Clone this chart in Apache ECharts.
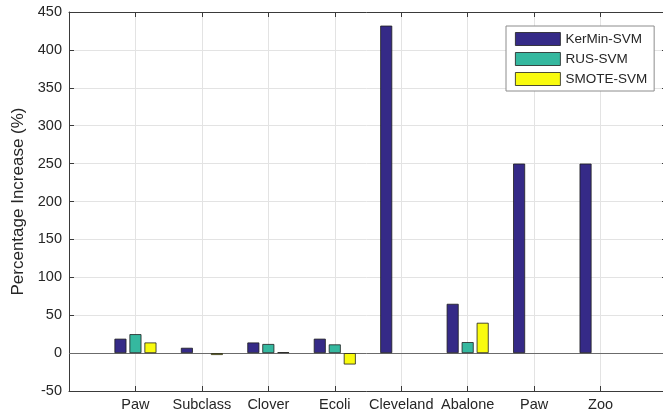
<!DOCTYPE html>
<html>
<head>
<meta charset="utf-8">
<script src="https://cdn.jsdelivr.net/npm/echarts@6/dist/echarts.min.js"></script>
<style>
  html, body { margin: 0; padding: 0; background: #fff; overflow: hidden; }
  #chart { width: 663px; height: 414px; }
</style>
</head>
<body>
<div id="chart"></div>
<script>
// Datasets along the x axis
const categories = ['Paw', 'Subclass', 'Clover', 'Ecoli', 'Cleveland', 'Abalone', 'Paw', 'Zoo'];
// Percentage increase per method
const kerMinSvm = [19, 7, 14, 19, 432, 65, 250, 250];
const rusSvm = [25, 0, 12, 11.5, 0, 14.5, 0, 0];
const smoteSvm = [14, -2.5, 1.3, -15, 0, 40, 0, 0];
const seriesNames = ['KerMin-SVM', 'RUS-SVM', 'SMOTE-SVM'];
// Y axis range and step
const yMin = -50, yMax = 450, yStep = 50;

const FONT = '"Liberation Sans", Arial, Helvetica, sans-serif';
const TEXT = '#262626';
const AXIS = '#3a3a3a';
const GRID = '#e3e3e3';
const colors = ['#352a87', '#35b89f', '#f9fb0e'];

// Zero-height bars sit on the baseline without an outline
const toPoints = vals => vals.map((v, i) => (
  v === 0 ? { value: [i + 1, v], itemStyle: { borderWidth: 0 } } : [i + 1, v]
));

const chart = echarts.init(document.getElementById('chart'), null, { renderer: 'canvas' });

const makeBar = (name, vals, color, withBaseline) => {
  const s = {
    name: name,
    type: 'bar',
    data: toPoints(vals),
    barWidth: 12,
    barGap: '25%',
    itemStyle: { color: color, borderColor: '#1e1e1e', borderWidth: 0.8 },
    emphasis: { disabled: true },
    animation: false,
    z: 3
  };
  if (withBaseline) {
    s.markLine = {
      silent: true,
      symbol: ['none', 'none'],
      label: { show: false },
      lineStyle: { color: '#6b6b6b', width: 1, type: 'solid' },
      data: [{ yAxis: 0 }],
      z: 2
    };
  }
  return s;
};

const option = {
  backgroundColor: '#ffffff',
  animation: false,
  textStyle: { fontFamily: FONT },
  // the plot box runs slightly past the right edge of the canvas
  grid: { left: 69, width: 598, top: 12, bottom: 23, containLabel: false, outerBoundsMode: 'none' },
  legend: {
    data: seriesNames,
    orient: 'vertical',
    left: 506,
    top: 26,
    padding: [6, 7, 5, 9],
    itemWidth: 45,
    itemHeight: 13,
    itemGap: 6,
    icon: 'rect',
    itemStyle: { borderWidth: 0.8, borderColor: '#1e1e1e' },
    backgroundColor: '#ffffff',
    borderColor: '#8c8c8c',
    borderWidth: 1,
    textStyle: { fontFamily: FONT, fontSize: 13.5, color: TEXT, lineHeight: 14 }
  },
  xAxis: [
    {
      type: 'value',
      min: 0,
      max: categories.length + 1,
      interval: 1,
      position: 'bottom',
      axisLine: { show: true, onZero: false, lineStyle: { color: AXIS, width: 1 } },
      axisTick: { show: true, inside: true, length: 5, lineStyle: { color: AXIS } },
      axisLabel: {
        margin: 6,
        fontFamily: FONT,
        fontSize: 14.5,
        color: TEXT,
        formatter: v => (v >= 1 && v <= categories.length) ? categories[v - 1] : ''
      },
      splitLine: { show: true, lineStyle: { color: GRID, width: 1 } }
    },
    {
      type: 'value',
      min: 0,
      max: categories.length + 1,
      interval: 1,
      position: 'top',
      axisLine: { show: true, onZero: false, lineStyle: { color: AXIS, width: 1 } },
      axisTick: { show: true, inside: true, length: 5, lineStyle: { color: AXIS } },
      axisLabel: { show: false },
      splitLine: { show: false }
    }
  ],
  yAxis: [
    {
      type: 'value',
      min: yMin,
      max: yMax,
      interval: yStep,
      position: 'left',
      name: 'Percentage Increase (%)',
      nameLocation: 'middle',
      nameRotate: 90,
      nameGap: 42,
      nameTextStyle: { fontFamily: FONT, fontSize: 17, color: TEXT },
      axisLine: { show: true, onZero: false, lineStyle: { color: AXIS, width: 1 } },
      axisTick: { show: true, inside: true, length: 5, lineStyle: { color: AXIS } },
      axisLabel: { margin: 7, fontFamily: FONT, fontSize: 14.5, color: TEXT },
      splitLine: { show: true, lineStyle: { color: GRID, width: 1 } }
    },
    {
      type: 'value',
      min: yMin,
      max: yMax,
      interval: yStep,
      position: 'right',
      axisLine: { show: true, onZero: false, lineStyle: { color: AXIS, width: 1 } },
      axisTick: { show: true, inside: true, length: 5, lineStyle: { color: AXIS } },
      axisLabel: { show: false },
      splitLine: { show: false }
    }
  ],
  series: [
    makeBar(seriesNames[0], kerMinSvm, colors[0], true),
    makeBar(seriesNames[1], rusSvm, colors[1], false),
    makeBar(seriesNames[2], smoteSvm, colors[2], false)
  ]
};

chart.setOption(option);
</script>
</body>
</html>
